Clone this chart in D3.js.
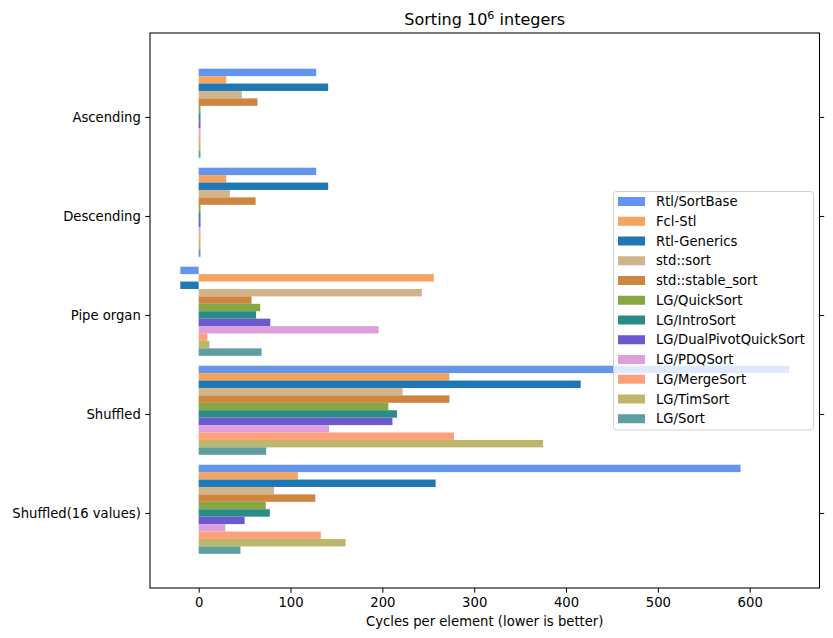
<!DOCTYPE html>
<html>
<head>
<meta charset="utf-8">
<script src="https://cdn.jsdelivr.net/npm/d3@7"></script>
<style>
  html, body { margin: 0; padding: 0; background: #fff; }
  svg { display: block; font-family: "DejaVu Sans", sans-serif; }
</style>
</head>
<body>
<svg id="chart" width="833" height="638"></svg>
<script>
// ---- data ----
const categories = ["Ascending", "Descending", "Pipe organ", "Shuffled", "Shuffled(16 values)"];
const seriesNames = ["Rtl/SortBase", "Fcl-Stl", "Rtl-Generics", "std::sort", "std::stable_sort",
  "LG/QuickSort", "LG/IntroSort", "LG/DualPivotQuickSort", "LG/PDQSort", "LG/MergeSort", "LG/TimSort", "LG/Sort"];
const seriesColors = ["#6495ED", "#F4A460", "#1F77B4", "#D2B48C", "#CD853F",
  "#86A843", "#2A8B87", "#6A5ACD", "#DDA0DD", "#FFA07A", "#BDB76B", "#5F9EA0"];
// values per series, in category order
const rtlSortBase   = [128, 128, -20, 643, 590];
const fclStl        = [30, 30, 256, 273, 108];
const rtlGenerics   = [141, 141, -20, 416, 258];
const stdSort       = [47, 34, 243, 222, 82];
const stdStableSort = [64, 62, 57.5, 273, 127];
const lgQuickSort   = [2, 2, 67, 206.5, 73];
const lgIntroSort   = [2, 2, 62.5, 216, 77.5];
const lgDualPivot   = [2, 2, 78, 211, 50];
const lgPDQSort     = [2, 2, 196, 142, 29];
const lgMergeSort   = [2, 2, 9.5, 278, 133];
const lgTimSort     = [2, 2, 11.7, 375, 160];
const lgSort        = [2, 2, 68.5, 73.5, 45.5];
const seriesValues = [rtlSortBase, fclStl, rtlGenerics, stdSort, stdStableSort, lgQuickSort,
  lgIntroSort, lgDualPivot, lgPDQSort, lgMergeSort, lgTimSort, lgSort];
const xTicks = [0, 100, 200, 300, 400, 500, 600];
const titleMain = "Sorting 10";
const titleSup = "6";
const titleRest = " integers";
const xLabel = "Cycles per element (lower is better)";

// ---- layout ----
const svg = d3.select("#chart");
const L = 150, R = 819.5, T = 33, B = 588;
const barH = 0.075;
const x = d3.scaleLinear().domain([-53, 676]).range([L, R]);
const y = d3.scaleLinear().domain([-0.848, 4.758]).range([T, B]);
const fontSize = 13.2;

// bars
const bars = [];
seriesValues.forEach((vals, j) => {
  vals.forEach((v, i) => {
    bars.push({ i, j, v });
  });
});
svg.append("g").selectAll("rect").data(bars).enter().append("rect")
  .attr("x", d => x(Math.min(0, d.v)))
  .attr("width", d => Math.abs(x(d.v) - x(0)))
  .attr("y", d => y(d.i + (d.j - 6) * barH - barH / 2))
  .attr("height", d => y(barH) - y(0))
  .attr("fill", d => seriesColors[d.j]);

// axes
const xAxis = svg.append("g").attr("transform", `translate(0,${B})`)
  .call(d3.axisBottom(x).tickValues(xTicks).tickSize(4.7).tickPadding(4.5));
const yAxisL = svg.append("g").attr("transform", `translate(${L},0)`)
  .call(d3.axisLeft(y).tickValues(d3.range(categories.length)).tickFormat(i => categories[i]).tickSize(4.7).tickPadding(4.5));
const yAxisR = svg.append("g").attr("transform", `translate(${R},0)`)
  .call(d3.axisRight(y).tickValues(d3.range(categories.length)).tickFormat("").tickSize(4.7));
[xAxis, yAxisL, yAxisR].forEach(g => {
  g.select(".domain").remove();
  g.selectAll("text").attr("font-family", "DejaVu Sans").attr("font-size", fontSize).attr("fill", "#000");
  g.selectAll("line").attr("stroke", "#000").attr("stroke-width", 1);
});

// frame
svg.append("rect").attr("x", L).attr("y", T).attr("width", R - L).attr("height", B - T)
  .attr("fill", "none").attr("stroke", "#000").attr("stroke-width", 1.05);

// title
const title = svg.append("text").attr("x", (L + R) / 2).attr("y", 25)
  .attr("text-anchor", "middle").attr("font-size", 16).attr("fill", "#000");
title.append("tspan").text(titleMain);
title.append("tspan").attr("font-size", 11.2).attr("dy", -6).text(titleSup);
title.append("tspan").attr("dy", 6).text(titleRest);

// x label
svg.append("text").attr("x", (L + R) / 2).attr("y", 626)
  .attr("text-anchor", "middle").attr("font-size", fontSize).attr("fill", "#000").text(xLabel);

// legend
const lg = svg.append("g");
const lgX = 613.5, lgY = 191.5, lgW = 200, lgH = 238.5;
lg.append("rect").attr("x", lgX).attr("y", lgY).attr("width", lgW).attr("height", lgH)
  .attr("rx", 3).attr("fill", "#fff").attr("fill-opacity", 0.8)
  .attr("stroke", "#ccc").attr("stroke-opacity", 0.9).attr("stroke-width", 1);
const rowStep = 19.75;
const items = lg.selectAll("g.item").data(seriesNames).enter().append("g")
  .attr("transform", (d, k) => `translate(${lgX + 4.5},${lgY + 10 + k * rowStep})`);
items.append("rect").attr("x", 0).attr("y", -4.5).attr("width", 27).attr("height", 9)
  .attr("fill", (d, k) => seriesColors[k]);
items.append("text").attr("x", 38).attr("y", 4.7).attr("font-size", fontSize).attr("fill", "#000").text(d => d);
</script>
</body>
</html>
